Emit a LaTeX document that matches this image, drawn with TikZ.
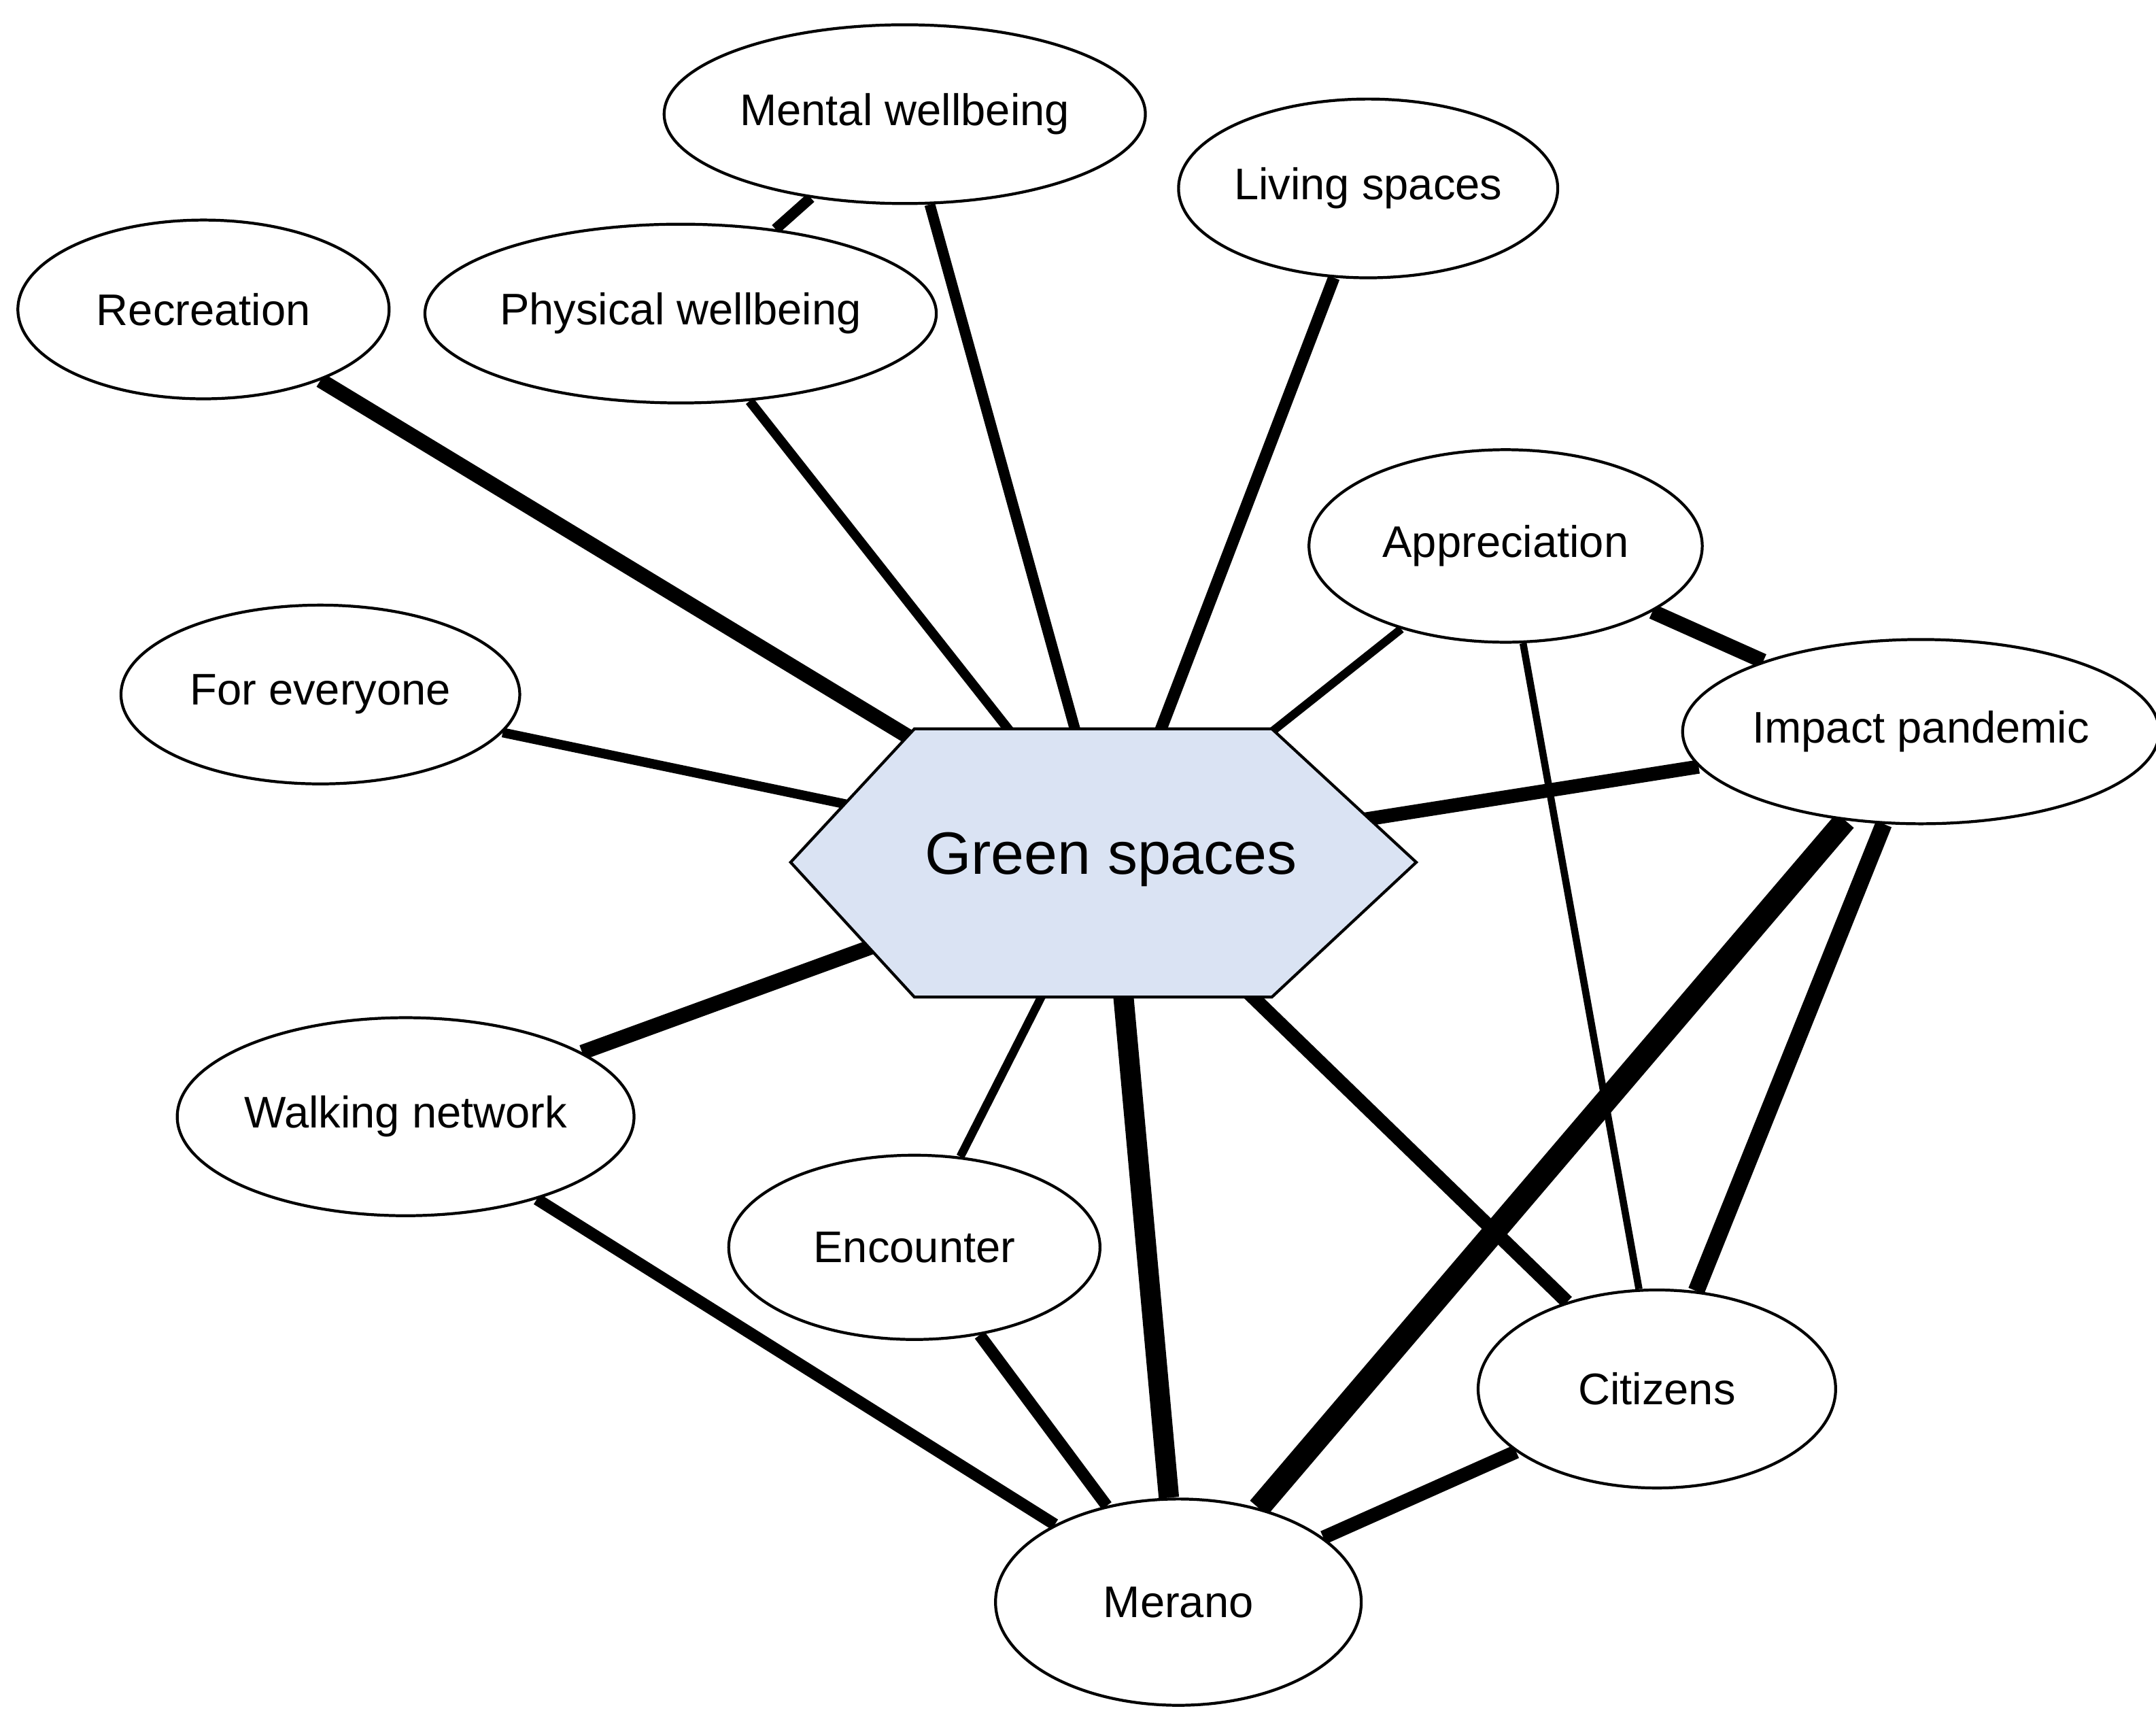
\documentclass[tikz,border=0pt]{standalone}
\usepackage{fontspec}
\setmainfont{Liberation Sans}
\usetikzlibrary{shapes.geometric}
\pgfdeclarelayer{background}
\pgfsetlayers{background,main}
\definecolor{hexBlue}{RGB}{218,227,243}
\tikzset{
  topic/.style 2 args={draw, ellipse, fill=white, line width=1.2pt, inner sep=0pt,
    minimum width=#1*0.0404cm, minimum height=#2*0.0404cm, font=\fontsize{18.5}{20}\selectfont},
  link/.style={line width=#1pt, line cap=butt}
}
\begin{document}
\begin{tikzpicture}[x=0.0202cm, y=-0.0202cm]
  \useasboundingbox (0,0) rectangle (1568,1259);
  % hexagon
  \draw[line width=1.2pt, fill=hexBlue] (575,627) -- (665,530) -- (925,530) -- (1030,627) -- (925,725) -- (665,725) -- cycle;
  \node[font=\fontsize{25}{28}\selectfont] (green) at (808,625) {Green spaces};

  \node[topic={175}{65}] (mental) at (658,83) {Mental wellbeing};
  \node[topic={135}{65}] (living) at (995,137) {Living spaces};
  \node[topic={135}{65}] (recr) at (148,225) {Recreation};
  \node[topic={152}{65}] (phys) at (495,228) {Physical wellbeing};
  \node[topic={143}{70}] (appr) at (1095,397) {Appreciation};
  \node[topic={145}{65}] (every) at (233,505) {For everyone};
  \node[topic={158}{67}] (impact) at (1397,532) {Impact pandemic};
  \node[topic={160}{72}] (walk) at (295,812) {Walking network};
  \node[topic={135}{67}] (enc) at (665,907) {Encounter};
  \node[topic={130}{72}] (cit) at (1205,1010) {Citizens};
  \node[topic={133}{75}] (merano) at (857,1165) {Merano};

  \begin{pgfonlayer}{background}
    \draw[link=4.5] (mental) -- (phys);
    \draw[link=4.5] (mental) -- (green.center);
    \draw[link=5] (living) -- (green.center);
    \draw[link=6.3] (recr) -- (green.center);
    \draw[link=4] (phys) -- (green.center);
    \draw[link=4] (every) -- (green.center);
    \draw[link=3.5] (appr) -- (green.center);
    \draw[link=6.3] (appr) -- (impact);
    \draw[link=3] (appr) -- (cit);
    \draw[link=5.8] (impact) -- (green.center);
    \draw[link=9.5] (impact) -- (merano);
    \draw[link=7] (impact) -- (cit);
    \draw[link=6.3] (walk) -- (green.center);
    \draw[link=3.5] (enc) -- (green.center);
    \draw[link=8.5] (merano) -- (green.center);
    \draw[link=5.8] (cit) -- (green.center);
    \draw[link=5] (walk) -- (merano);
    \draw[link=5] (enc) -- (merano);
    \draw[link=5.8] (cit) -- (merano);
  \end{pgfonlayer}
\end{tikzpicture}
\end{document}
